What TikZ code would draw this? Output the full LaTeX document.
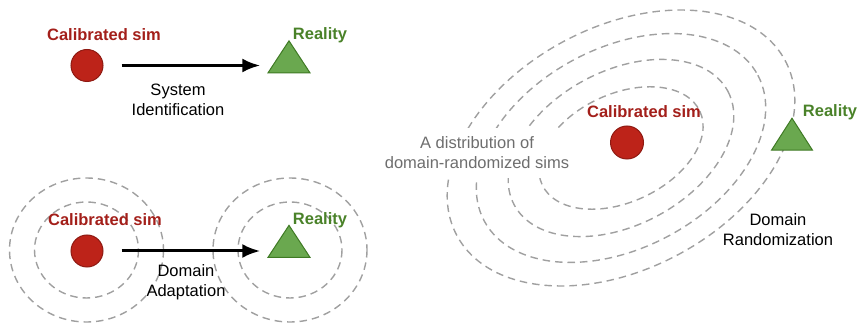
\documentclass[tikz,border=0pt]{standalone}
\usepackage{fontspec}
\setmainfont{Liberation Sans}
\usetikzlibrary{arrows.meta,shapes.geometric}

\definecolor{simred}{HTML}{BD2319}
\definecolor{simborder}{HTML}{8E1A12}
\definecolor{simtext}{HTML}{A31F1A}
\definecolor{realgreen}{HTML}{6AA84F}
\definecolor{realborder}{HTML}{3F7A24}
\definecolor{realtext}{HTML}{4A8229}
\definecolor{ringgray}{HTML}{A0A0A0}
\definecolor{disttext}{HTML}{6E6E6E}

\tikzset{
  sim/.style={circle, draw=simborder, fill=simred, line width=1pt,
    minimum size=32pt, inner sep=0pt},
  real/.style={isosceles triangle, shape border rotate=90,
    isosceles triangle stretches, minimum width=42pt, minimum height=32pt,
    draw=realborder, fill=realgreen, line width=1pt, inner sep=0pt},
  simlabel/.style={text=simtext, font=\fontsize{16.5}{20}\selectfont\bfseries},
  reallabel/.style={text=realtext, font=\fontsize{16.5}{20}\selectfont\bfseries},
  caption/.style={align=center, font=\fontsize{16.5}{20}\selectfont},
  ring/.style={draw=ringgray, line width=1.4pt, dash pattern=on 7.5pt off 5pt},
  flow/.style={-{Latex[length=18pt,width=14pt]}, line width=3pt,
    shorten <=18pt, shorten >=14.5pt}
}

\begin{document}
\begin{tikzpicture}[x=1pt,y=-1pt]
  \useasboundingbox (0,0) rectangle (860,323);

  % System identification
  \node[sim] (simA) at (87,65.5) {};
  \node[real] (realA) at (289,61.5) {};
  \node[simlabel] (simlabA) at (104,35) {Calibrated sim};
  \node[reallabel] (reallabA) at (320,35) {Reality};
  \draw[flow] (simA) -- (simA -| realA.west);
  \node[caption] (sysid) at (178,99.5) {System\\Identification};

  % Domain adaptation
  \foreach \rx/\ry in {52/48,77/72} {
    \draw[ring] (86.5,250) ellipse [x radius=\rx, y radius=\ry];
    \draw[ring] (290,250) ellipse [x radius=\rx, y radius=\ry];
  }
  \node[sim] (simB) at (87,251) {};
  \node[real] (realB) at (289,246) {};
  \node[simlabel] (simlabB) at (105,220) {Calibrated sim};
  \node[reallabel] (reallabB) at (320,220) {Reality};
  \draw[flow] (simB) -- (simB -| realB.west);
  \node[caption] (domadapt) at (186,282) {Domain\\Adaptation};

  % Domain randomization
  \foreach \a/\b/\t in {87/54/25,121/77/28,155/100/28,186/121/28}
    \draw[ring, rotate around={\t:(621,148)}] (621,148) ellipse [x radius=\a, y radius=\b];
  \node[caption, text=disttext, fill=white, inner xsep=2pt, inner ysep=9pt]
    (dist) at (477,153) {A distribution of\\domain-randomized sims};
  \node[sim, minimum size=33pt] (simC) at (627,142.5) {};
  \node[real, minimum width=41pt] (realC) at (792,139) {};
  \node[simlabel] (simlabC) at (644,112) {Calibrated sim};
  \node[reallabel] (reallabC) at (830,112) {Reality};
  \node[caption] (domrand) at (778,229.5) {Domain\\Randomization};
\end{tikzpicture}
\end{document}
